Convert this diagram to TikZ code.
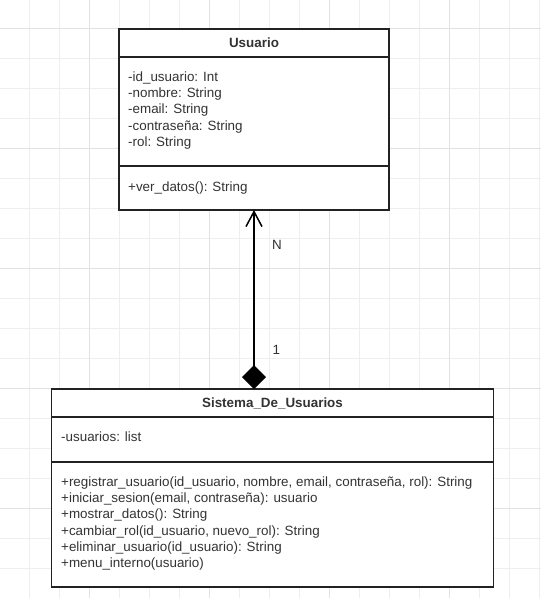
\documentclass[tikz,border=0pt]{standalone}
\usepackage{fontspec}
\setmainfont{Liberation Sans}
\usetikzlibrary{arrows.meta}
\definecolor{gridminor}{HTML}{EEEEEE}
\definecolor{gridmajor}{HTML}{E2E2E2}
\definecolor{stroke}{HTML}{222222}
\definecolor{ink}{HTML}{333333}
\tikzset{
  compartment/.style={draw=stroke, line width=1.5pt, fill=white, rectangle,
    anchor=north west, inner sep=0pt, outer sep=0pt},
  classtitle/.style={font=\fontsize{13.4}{16}\selectfont\bfseries, text=ink, inner sep=0pt},
  member/.style={font=\fontsize{13.4}{16}\selectfont, text=ink, anchor=base west, inner sep=0pt},
  mult/.style={font=\fontsize{13.4}{16}\selectfont, text=ink, anchor=base west, inner sep=0pt},
  assoc/.style={line width=1.5pt, draw=black,
    {Diamond[length=24pt,width=24pt,fill=black]}-{Straight Barb[length=15pt,width=16pt,line width=1.5pt]}},
}
\begin{document}
\begin{tikzpicture}[x=1pt,y=-1pt]
  \useasboundingbox (0,0) rectangle (541,598);
  \fill[white] (0,0) rectangle (541,598);
  % background grid
  \foreach \k in {0,...,17}
    \draw[gridminor, line width=1pt] ({29.5+30*\k},0) -- ({29.5+30*\k},598);
  \foreach \k in {0,...,19}
    \draw[gridminor, line width=1pt] (0,{28.5+30*\k}) -- (541,{28.5+30*\k});
  \foreach \x in {89.5,209.5,329.5,449.5}
    \draw[gridmajor, line width=1pt] (\x,0) -- (\x,598);
  \foreach \y in {28.5,148.5,268.5,388.5,508.5}
    \draw[gridmajor, line width=1pt] (0,\y) -- (541,\y);

  % class Usuario
  \node[compartment, minimum width=270pt, minimum height=28pt] (uT) at (119,29) {};
  \node[compartment, minimum width=270pt, minimum height=109pt] (uA) at (119,57) {};
  \node[compartment, minimum width=270pt, minimum height=44pt] (uM) at (119,166) {};
  \node[classtitle] (uTt) at (uT.center) {Usuario};
  \node[member] (ua1) at (128,81.3) {-id\_usuario: Int};
  \node[member] (ua2) at (128,97.6) {-nombre: String};
  \node[member] (ua3) at (128,113.9) {-email: String};
  \node[member] (ua4) at (128,130.2) {-contraseña: String};
  \node[member] (ua5) at (128,146.5) {-rol: String};
  \node[member] (um1) at (128,191.3) {+ver\_datos(): String};

  % class Sistema_De_Usuarios
  \node[compartment, minimum width=442pt, minimum height=28pt] (sT) at (51.5,389) {};
  \node[compartment, minimum width=442pt, minimum height=45pt] (sA) at (51.5,417) {};
  \node[compartment, minimum width=442pt, minimum height=125pt] (sM) at (51.5,462) {};
  \node[classtitle] (sTt) at (sT.center) {Sistema\_De\_Usuarios};
  \node[member] (sa1) at (61,441.3) {-usuarios: list};
  \node[member] (sm1) at (61,486.3) {+registrar\_usuario(id\_usuario, nombre, email, contraseña, rol): String};
  \node[member] (sm2) at (61,502.6) {+iniciar\_sesion(email, contraseña): usuario};
  \node[member] (sm3) at (61,518.9) {+mostrar\_datos(): String};
  \node[member] (sm4) at (61,535.2) {+cambiar\_rol(id\_usuario, nuevo\_rol): String};
  \node[member] (sm5) at (61,551.5) {+eliminar\_usuario(id\_usuario): String};
  \node[member] (sm6) at (61,567.8) {+menu\_interno(usuario)};

  % composition: Sistema_De_Usuarios (1) holds Usuario (N)
  \draw[assoc] (uM.south |- sT.north) -- (uM.south);
  \node[mult] (mN) at (272,249) {N};
  \node[mult] (m1) at (272.5,354) {1};
\end{tikzpicture}
\end{document}
